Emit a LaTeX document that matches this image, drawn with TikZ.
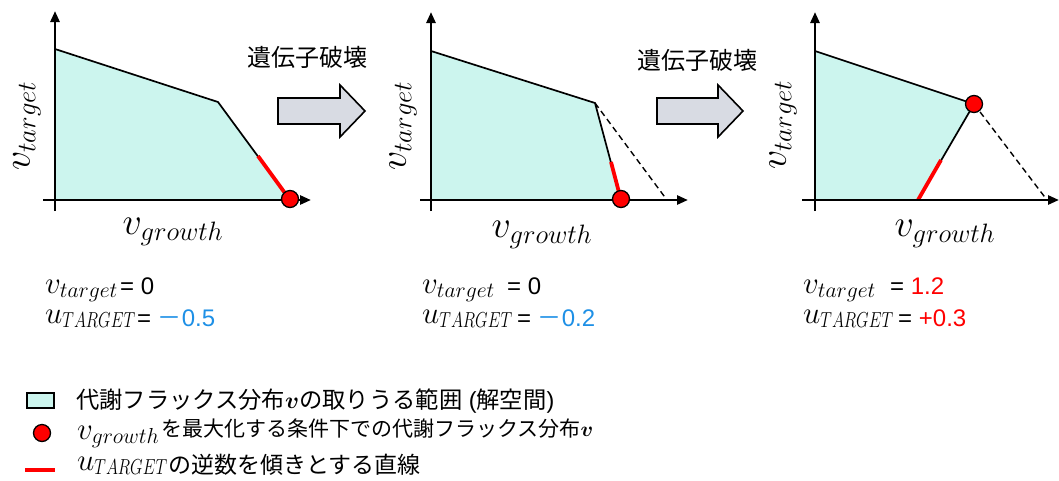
\RequirePackage{fix-cm}
\documentclass[tikz,border=0pt]{standalone}
\usepackage{bm}
\usepackage{graphicx}
\usepackage{fontspec}
\setmainfont{Liberation Sans}
\newfontfamily\jp{Noto Sans CJK JP}
\usetikzlibrary{arrows.meta}
\definecolor{region}{RGB}{204,245,238}
\definecolor{arrowfill}{RGB}{216,219,227}
\definecolor{valblue}{RGB}{30,144,230}
\newcommand\vtar{v_{target}}
\newcommand\vgro{v_{growth}}
\newcommand\uTAR{u_{\scalebox{0.75}[1]{$\scriptstyle TARGET$}}}
\tikzset{
  axisline/.style={line width=2.6pt, -{Triangle[length=11pt,width=9pt]}},
  edgeline/.style={line width=1.7pt, line join=round},
  dashline/.style={line width=1.4pt, dash pattern=on 6pt off 4pt},
  redline/.style={line width=3.8pt, red},
  dot/.style={circle, fill=red, draw=black, line width=1.3pt, minimum size=17pt, inner sep=0pt},
  blockarrow/.style={fill=arrowfill, draw=black, line width=1.6pt, line join=miter},
  jplabel/.style={font=\jp\fontsize{24}{28}\selectfont, inner sep=0pt},
  axlabel/.style={font=\fontsize{38}{44}\selectfont, inner sep=0pt},
  mathval/.style={font=\fontsize{31}{36}\selectfont, inner sep=0pt, anchor=base west},
  numval/.style={font=\fontsize{24}{28}\selectfont, inner sep=0pt, anchor=base west},
  legtext/.style={font=\fontsize{22}{26}\selectfont, inner sep=0pt, anchor=west},
}
\begin{document}
\begin{tikzpicture}[x=1pt,y=-1pt]
\useasboundingbox (0,0) rectangle (1059,480);

% ---------- panel 1 ----------
\coordinate (a1) at (55,49);
\coordinate (b1) at (218,102);
\coordinate (c1) at (290,200);
\coordinate (o1) at (55,200);
\coordinate (r1) at (258,156);
\fill[region] (a1) -- (b1) -- (c1) -- (o1) -- cycle;
\draw[edgeline] (a1) -- (b1) -- (c1);
\draw[redline] (r1) -- (c1);
\coordinate (xs1) at (43,200); \coordinate (xe1) at (311,200);
\coordinate (ys1) at (55,211); \coordinate (ye1) at (55,11);
\draw[axisline] (xs1) -- (xe1);
\draw[axisline] (ys1) -- (ye1);
\node[dot] (d1) at (290,199) {};
\node[axlabel, rotate=90] (yl1) at (27,126) {$\vtar$};
\node[axlabel] (xl1) at (173,232) {$\vgro$};

% ---------- panel 2 ----------
\coordinate (a2) at (431,51);
\coordinate (b2) at (595,103);
\coordinate (c2) at (621,200);
\coordinate (o2) at (431,200);
\coordinate (r2) at (611,162);
\coordinate (g2) at (667,200);
\fill[region] (a2) -- (b2) -- (c2) -- (o2) -- cycle;
\draw[dashline] (b2) -- (g2);
\draw[edgeline] (a2) -- (b2) -- (c2);
\draw[redline] (r2) -- (c2);
\coordinate (xs2) at (420,200); \coordinate (xe2) at (688,200);
\coordinate (ys2) at (431,211); \coordinate (ye2) at (431,12);
\draw[axisline] (xs2) -- (xe2);
\draw[axisline] (ys2) -- (ye2);
\node[dot] (d2) at (621,199) {};
\node[axlabel, rotate=90] (yl2) at (403,126) {$\vtar$};
\node[axlabel] (xl2) at (542,235) {$\vgro$};

% ---------- panel 3 ----------
\coordinate (a3) at (815,51);
\coordinate (b3) at (974,104);
\coordinate (c3) at (918,200);
\coordinate (o3) at (815,200);
\coordinate (r3) at (941,160);
\coordinate (g3) at (1047,200);
\fill[region] (a3) -- (b3) -- (c3) -- (o3) -- cycle;
\draw[dashline] (b3) -- (g3);
\draw[edgeline] (a3) -- (b3) -- (c3);
\draw[redline] (r3) -- (c3);
\coordinate (xs3) at (802,200); \coordinate (xe3) at (1059,200);
\coordinate (ys3) at (815,211); \coordinate (ye3) at (815,12);
\draw[axisline] (xs3) -- (xe3);
\draw[axisline] (ys3) -- (ye3);
\node[dot] (d3) at (974,104) {};
\node[axlabel, rotate=90] (yl3) at (783,125) {$\vtar$};
\node[axlabel] (xl3) at (945,234) {$\vgro$};

% ---------- block arrows ----------
\draw[blockarrow] (278,98) -- (340,98) -- (340,85) -- (365,111) -- (340,137) -- (340,124) -- (278,124) -- cycle;
\draw[blockarrow] (657,98) -- (718,98) -- (718,85) -- (743,111) -- (718,137) -- (718,124) -- (657,124) -- cycle;
\node[jplabel] (k1) at (307,57) {遺伝子破壊};
\node[jplabel] (k2) at (697,60) {遺伝子破壊};

% ---------- values ----------
\node[mathval] (m11) at (45,293) {$\vtar$};
\node[numval] (n11) at (120,294) {= 0};
\node[mathval] (m12) at (45,323) {$\uTAR$};
\node[numval] (n12) at (137,326) {= {\color{valblue}{\jp －}0.5}};

\node[mathval] (m21) at (422,293) {$\vtar$};
\node[numval] (n21) at (507,294) {= 0};
\node[mathval] (m22) at (422,323) {$\uTAR$};
\node[numval] (n22) at (517,326) {= {\color{valblue}{\jp －}0.2}};

\node[mathval] (m31) at (803,293) {$\vtar$};
\node[numval] (n31) at (890,294) {= {\color{red}1.2}};
\node[mathval] (m32) at (803,323) {$\uTAR$};
\node[numval] (n32) at (898,326) {= {\color{red}+0.3}};

% ---------- legend ----------
\draw[fill=region, draw=black, line width=1.5pt] (27,393) rectangle (54,408);
\node[legtext, font=\fontsize{23.3}{27}\selectfont] (l1) at (76,401) {{\jp 代謝フラックス分布}$\bm{v}${\jp の取りうる範囲} ({\jp 解空間})};
\node[dot] (ld) at (42,433) {};
\node[mathval] (l2m) at (77,439) {$\vgro$};
\node[legtext, font=\fontsize{21}{25}\selectfont] (l2) at (161,429) {{\jp を最大化する条件下での代謝フラックス分布}$\bm{v}$};
\coordinate (lr1) at (25,470); \coordinate (lr2) at (55,470);
\draw[redline] (lr1) -- (lr2);
\node[mathval] (l3m) at (77,470) {$\uTAR$};
\node[legtext, font=\fontsize{23}{27}\selectfont] (l3) at (168,465) {{\jp の逆数を傾きとする直線}};
\end{tikzpicture}
\end{document}
